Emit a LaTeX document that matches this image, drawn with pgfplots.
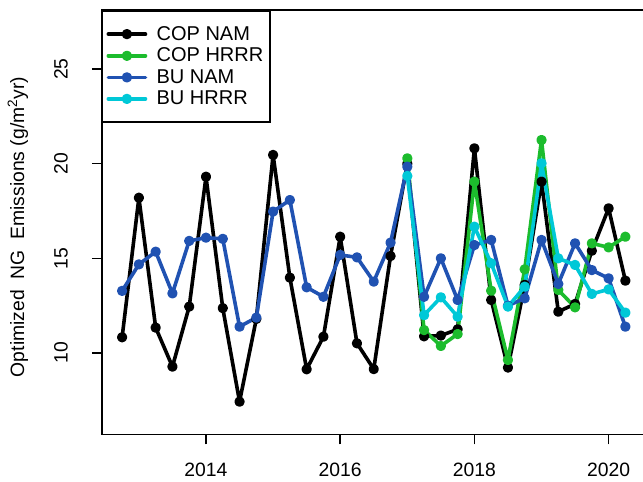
\documentclass[border=0pt]{standalone}
\usepackage{pgfplots}
\pgfplotsset{compat=1.18}
\usepackage{fontspec}
\setmainfont{Liberation Sans}
\definecolor{copnam}{RGB}{0,0,0}
\definecolor{cophrrr}{RGB}{28,188,45}
\definecolor{bunam}{RGB}{32,82,178}
\definecolor{buhrrr}{RGB}{0,200,215}
\pgfplotstableread{
x y
2012.75 10.83
2013.00 18.20
2013.25 11.34
2013.50 9.28
2013.75 12.45
2014.00 19.31
2014.25 12.37
2014.50 7.43
2014.75 11.80
2015.00 20.46
2015.25 13.98
2015.50 9.14
2015.75 10.86
2016.00 16.14
2016.25 10.51
2016.50 9.15
2016.75 15.12
2017.00 20.00
2017.25 10.88
2017.50 10.92
2017.75 11.25
2018.00 20.81
2018.25 12.80
2018.50 9.23
2018.75 13.60
2019.00 19.05
2019.25 12.18
2019.50 12.59
2019.75 15.40
2020.00 17.64
2020.25 13.82
}\copnam
\pgfplotstableread{
x y
2017.00 20.28
2017.25 11.21
2017.50 10.37
2017.75 11.00
2018.00 19.05
2018.25 13.29
2018.50 9.63
2018.75 14.42
2019.00 21.25
2019.25 13.33
2019.50 12.41
2019.75 15.79
2020.00 15.58
2020.25 16.14
}\cophrrr
\pgfplotstableread{
x y
2012.75 13.28
2013.00 14.68
2013.25 15.35
2013.50 13.15
2013.75 15.92
2014.00 16.09
2014.25 16.03
2014.50 11.39
2014.75 11.87
2015.00 17.47
2015.25 18.08
2015.50 13.47
2015.75 12.97
2016.00 15.18
2016.25 15.05
2016.50 13.77
2016.75 15.83
2017.00 19.84
2017.25 12.97
2017.50 15.00
2017.75 12.80
2018.00 15.70
2018.25 15.97
2018.50 12.50
2018.75 12.89
2019.00 15.97
2019.25 13.65
2019.50 15.79
2019.75 14.38
2020.00 13.94
2020.25 11.39
}\bunam
\pgfplotstableread{
x y
2017.00 19.35
2017.25 12.00
2017.50 12.94
2017.75 11.92
2018.00 16.67
2018.25 14.74
2018.50 12.45
2018.75 13.50
2019.00 20.02
2019.25 15.00
2019.50 14.65
2019.75 13.12
2020.00 13.36
2020.25 12.13
}\buhrrr
\begin{document}
\begin{tikzpicture}
\begin{axis}[
  scale only axis,
  width=410.4pt, height=318.4pt,
  xmin=2012.446, xmax=2020.6,
  ymin=5.695, ymax=28.117,
  axis line style={line width=1.2pt},
  tick style={line width=1.2pt, black},
  tick align=outside,
  major tick length=7.5pt,
  xtick={2014,2016,2018,2020},
  ytick={10,15,20,25},
  xtick pos=bottom, ytick pos=left,
  /pgf/number format/assume math mode=true,
  /pgf/number format/1000 sep={},
  ticklabel style={font=\fontsize{14.5}{17}\selectfont},
  yticklabel style={rotate=90, anchor=south},
  yticklabel shift=14.5pt,
  xticklabel shift=10.5pt,
  ylabel={Optimized\ \ NG\ \ Emissions (g/m\textsuperscript{2}yr)},
  ylabel style={at={(axis description cs:-0.153,0.489)}, anchor=center, rotate=0, font=\fontsize{14.5}{17}\selectfont},
  legend style={at={(0,1)}, anchor=north west, draw=black, line width=1.2pt,
    font=\fontsize{15}{18}\selectfont, cells={anchor=west}, row sep=0.3pt,
    inner xsep=3pt, inner ysep=9.5pt,
    /tikz/every odd column/.append style={column sep=5pt}},
  legend image code/.code={\draw[mark repeat=2,mark phase=2,#1] plot coordinates {(0cm,0cm) (0.49cm,0cm) (0.98cm,0cm)};},
  every axis plot/.append style={line width=2.7pt, line join=round, line cap=round, mark=*, mark size=2.5pt},
]
\addplot[copnam, mark options={fill=copnam}] table {\copnam};
\addlegendentry{COP NAM}
\addplot[cophrrr, mark options={fill=cophrrr}] table {\cophrrr};
\addlegendentry{COP HRRR}
\addplot[bunam, mark options={fill=bunam}] table {\bunam};
\addlegendentry{BU NAM}
\addplot[buhrrr, mark options={fill=buhrrr}] table {\buhrrr};
\addlegendentry{BU HRRR}
\end{axis}
\draw[line width=1.2pt, line cap=rect] (current axis.north west) -- (current axis.north east);
\pgfresetboundingbox
\useasboundingbox ([xshift=-76.3pt, yshift=-34.9pt]current axis.south west) rectangle ([xshift=406pt, yshift=7.5pt]current axis.north west);
\end{tikzpicture}
\end{document}
